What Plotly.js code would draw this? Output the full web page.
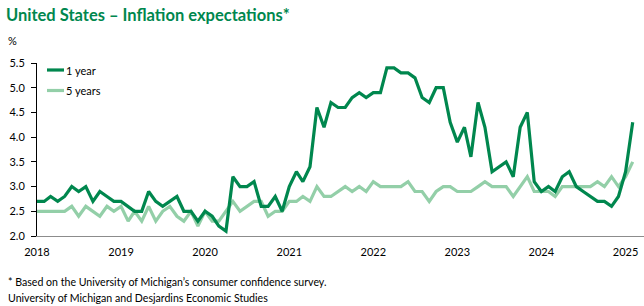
<!DOCTYPE html>
<html>
<head>
<meta charset="utf-8">
<script src="https://cdn.plot.ly/plotly-3.0.1.min.js"></script>
<style>
  html, body { margin: 0; padding: 0; background: #fff; }
  #chart { width: 644px; height: 306px; }
</style>
</head>
<body>
<div id="chart"></div>
<script>
// ---- Data (monthly, starting January 2018) ----
const startYear = 2018;
const seriesNames = ["1 year", "5 years"];
const oneYear = [
  2.7,2.7,2.8,2.7,2.8,3.0,2.9,3.0,2.7,2.9,2.8,2.7,   // 2018
  2.7,2.6,2.5,2.5,2.9,2.7,2.6,2.7,2.8,2.5,2.5,2.3,   // 2019
  2.5,2.4,2.2,2.1,3.2,3.0,3.0,3.1,2.6,2.6,2.8,2.5,   // 2020
  3.0,3.3,3.1,3.4,4.6,4.2,4.7,4.6,4.6,4.8,4.9,4.8,   // 2021
  4.9,4.9,5.4,5.4,5.3,5.3,5.2,4.8,4.7,5.0,5.0,4.3,   // 2022
  3.9,4.2,3.6,4.7,4.2,3.3,3.4,3.5,3.2,4.2,4.5,3.1,   // 2023
  2.9,3.0,2.9,3.2,3.3,3.0,2.9,2.8,2.7,2.7,2.6,2.8,   // 2024
  3.3,4.3                                            // 2025
];
const fiveYears = [
  2.5,2.5,2.5,2.5,2.5,2.6,2.4,2.6,2.5,2.4,2.6,2.5,   // 2018
  2.6,2.3,2.5,2.3,2.6,2.3,2.5,2.6,2.4,2.3,2.5,2.2,   // 2019
  2.5,2.3,2.3,2.5,2.7,2.5,2.6,2.7,2.7,2.4,2.5,2.5,   // 2020
  2.7,2.7,2.8,2.7,3.0,2.8,2.8,2.9,3.0,2.9,3.0,2.9,   // 2021
  3.1,3.0,3.0,3.0,3.0,3.1,2.9,2.9,2.7,2.9,3.0,3.0,   // 2022
  2.9,2.9,2.9,3.0,3.1,3.0,3.0,3.0,2.8,3.0,3.2,2.9,   // 2023
  2.9,2.9,2.8,3.0,3.0,3.0,3.0,3.0,3.1,3.0,3.2,3.0,   // 2024
  3.2,3.5                                            // 2025
];
const yearTicks = ["2018","2019","2020","2021","2022","2023","2024","2025"];
const yTicks = [2.0,2.5,3.0,3.5,4.0,4.5,5.0,5.5];

const titleText = "United States \u2013 Inflation expectations*";
const footnote1 = "* Based on the University of Michigan\u2019s consumer confidence survey.";
const footnote2 = "University of Michigan and Desjardins Economic Studies";

// month dates
function monthDates(n) {
  const out = [];
  for (let i = 0; i < n; i++) {
    const y = startYear + Math.floor(i / 12);
    const m = (i % 12) + 1;
    out.push(y + "-" + (m < 10 ? "0" + m : m) + "-01");
  }
  return out;
}
const dates = monthDates(oneYear.length);

const DARK = "#00874E";
const LIGHT = "#93CFA8";
const FONT = "Lato, 'Open Sans', sans-serif";

const traces = [
  { x: dates, y: fiveYears, name: seriesNames[1], type: "scatter", mode: "lines",
    line: { color: LIGHT, width: 3.2 }, showlegend: false, hoverinfo: "skip" },
  { x: dates, y: oneYear, name: seriesNames[0], type: "scatter", mode: "lines",
    line: { color: DARK, width: 3.2 }, showlegend: false, hoverinfo: "skip" }
];

const plotL = 37, plotR = 644, plotT = 63, plotB = 236;
const W = 644, H = 306;
const px = v => (v - plotL) / (plotR - plotL);
const py = v => (plotB - v) / (plotB - plotT);

const layout = {
  width: W, height: H,
  margin: { l: plotL, r: W - plotR, t: plotT, b: H - plotB, pad: 0 },
  paper_bgcolor: "#fff", plot_bgcolor: "#fff",
  font: { family: FONT, size: 11, color: "#000" },
  title: {
    text: "<b>" + titleText + "</b>",
    font: { family: FONT, size: 16.5, color: DARK },
    xref: "container", yref: "container",
    x: 6 / W, xanchor: "left", y: 1 - 15 / H, yanchor: "middle"
  },
  xaxis: {
    type: "date",
    range: ["2018-01-01", "2025-03-22"],
    tickvals: yearTicks.map(y => y + "-01-01"),
    ticktext: yearTicks,
    ticks: "", showgrid: false, zeroline: false,
    showline: true, linecolor: "#8c8c8c", linewidth: 1,
    tickfont: { family: FONT, size: 11, color: "#000" },
    ticklabelstandoff: 6
  },
  yaxis: {
    range: [2.0, 5.5],
    tickvals: yTicks,
    ticktext: yTicks.map(v => v.toFixed(1)),
    ticks: "outside", ticklen: 5, tickcolor: "#000", tickwidth: 1,
    showgrid: false, zeroline: false,
    showline: true, linecolor: "#000", linewidth: 1,
    tickfont: { family: FONT, size: 11, color: "#000" },
    ticklabelstandoff: 4
  },
  shapes: [
    { type: "line", xref: "paper", yref: "paper", x0: px(47), x1: px(64), y0: py(70), y1: py(70),
      line: { color: DARK, width: 3.2 } },
    { type: "line", xref: "paper", yref: "paper", x0: px(47), x1: px(64), y0: py(90.5), y1: py(90.5),
      line: { color: LIGHT, width: 3.2 } }
  ],
  annotations: [
    { text: seriesNames[0], xref: "paper", yref: "paper", x: px(63.5), y: py(70),
      xanchor: "left", yanchor: "middle", showarrow: false, font: { family: FONT, size: 11, color: "#000" } },
    { text: seriesNames[1], xref: "paper", yref: "paper", x: px(63.5), y: py(90.5),
      xanchor: "left", yanchor: "middle", showarrow: false, font: { family: FONT, size: 11, color: "#000" } },
    { text: "%", xref: "paper", yref: "paper", x: px(6), y: py(41),
      xanchor: "left", yanchor: "middle", showarrow: false, font: { family: FONT, size: 11, color: "#000" } },
    { text: footnote1, xref: "paper", yref: "paper", x: px(6), y: py(282),
      xanchor: "left", yanchor: "middle", showarrow: false, font: { family: FONT, size: 10.6, color: "#000" } },
    { text: footnote2, xref: "paper", yref: "paper", x: px(6), y: py(298),
      xanchor: "left", yanchor: "middle", showarrow: false, font: { family: FONT, size: 10.6, color: "#000" } }
  ]
};

Plotly.newPlot("chart", traces, layout, { staticPlot: true, displayModeBar: false });
</script>
</body>
</html>
